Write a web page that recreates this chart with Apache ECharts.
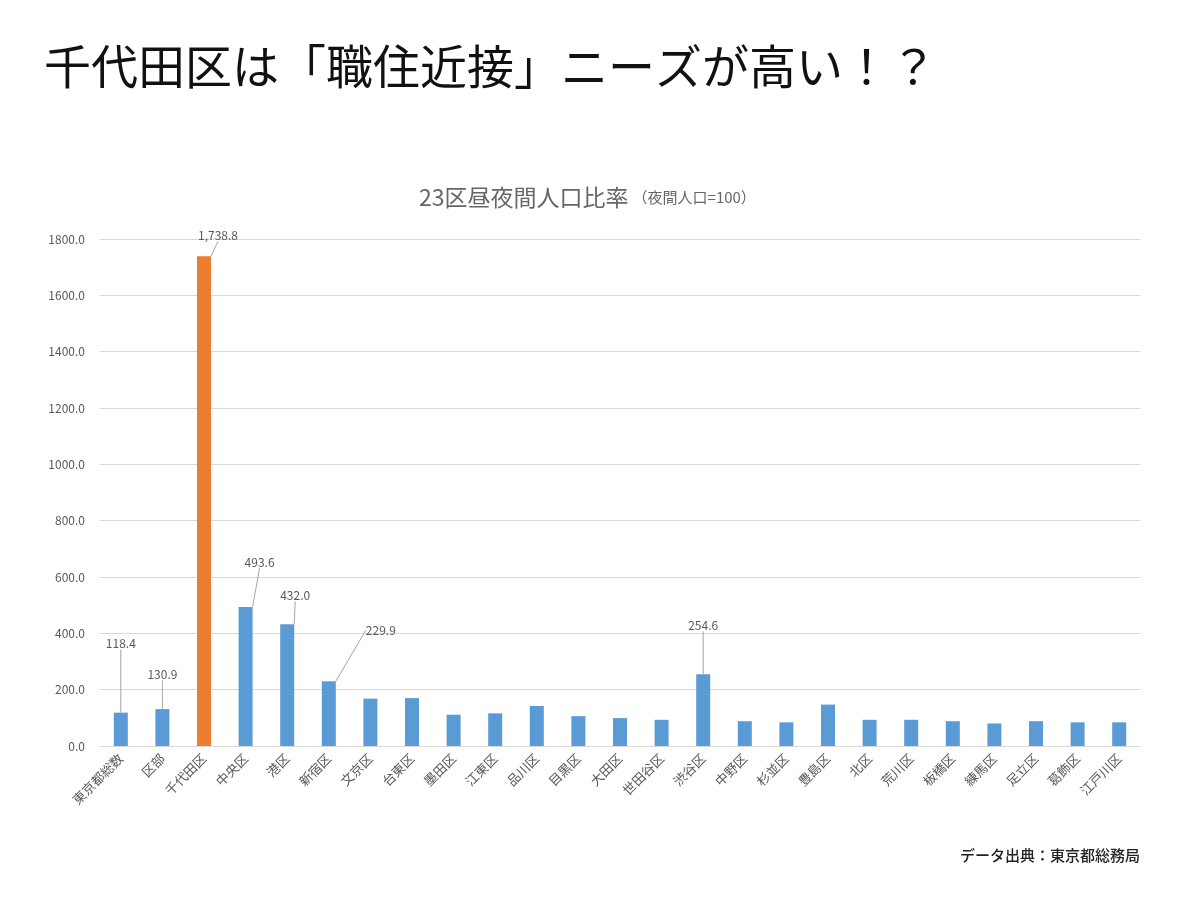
<!DOCTYPE html>
<html>
<head>
<meta charset="utf-8">
<script src="https://cdn.jsdelivr.net/npm/echarts@6/dist/echarts.min.js"></script>
<style>
html,body{margin:0;padding:0;background:#fff;}
#chart{width:1200px;height:902px;}
</style>
</head>
<body>
<div id="chart"></div>
<script>
const categories = ['東京都総数','区部','千代田区','中央区','港区','新宿区','文京区','台東区','墨田区','江東区','品川区','目黒区','大田区','世田谷区','渋谷区','中野区','杉並区','豊島区','北区','荒川区','板橋区','練馬区','足立区','葛飾区','江戸川区'];
const values = [118.4,130.9,1738.8,493.6,432.0,229.9,168,170,111,116,142,106,99,93,254.6,88,84,147,93,93,88,80,88,84,84];
const highlighted = ['千代田区'];
const labeledCategories = ['東京都総数','区部','千代田区','中央区','港区','新宿区','渋谷区'];
const labelOffsets = {
  '東京都総数': [0, -58],
  '区部': [0, -24],
  '千代田区': [14, -10],
  '中央区': [14, -34],
  '港区': [8, -18],
  '新宿区': [52, -40],
  '渋谷区': [0, -38]
};

const font = '"Noto Sans CJK JP", "Noto Sans", sans-serif';
const fmt = v => v.toLocaleString('en-US',{minimumFractionDigits:1,maximumFractionDigits:1});

const data = categories.map((c,i)=>{
  const item = {value: values[i], itemStyle:{color: highlighted.includes(c) ? '#ED7D31' : '#5B9BD5'}};
  if (labeledCategories.includes(c)) {
    item.label = {show:true};
  }
  return item;
});

const chart = echarts.init(document.getElementById('chart'));
chart.setOption({
  backgroundColor:'#fff',
  animation:false,
  textStyle:{fontFamily:font},
  graphic:[
    {type:'text', left:44, top:43, style:{text:'千代田区は「職住近接」ニーズが高い！？', font:'47px '+font, fill:'#111'}},
    {type:'text', right:60, top:848, style:{text:'データ出典：東京都総務局', font:'500 15px '+font, fill:'#222'}}
  ],
  title:{
    text:'{a|23区昼夜間人口比率} {b|（夜間人口=100）}',
    left:414, top:181,
    textStyle:{fontWeight:'normal', rich:{
      a:{fontSize:23, color:'#666', fontFamily:font, fontWeight:'normal'},
      b:{fontSize:15, color:'#666', fontFamily:font, fontWeight:'normal'}
    }}
  },
  grid:{left:100, right:60, top:239, bottom:156},
  xAxis:{
    type:'category', data:categories,
    axisLine:{lineStyle:{color:'#d9d9d9'}},
    axisTick:{show:false},
    axisLabel:{rotate:45, color:'#595959', fontSize:13, interval:0, margin:10, fontFamily:font}
  },
  yAxis:{
    type:'value', min:0, max:1800, interval:200,
    axisLine:{show:false}, axisTick:{show:false},
    splitLine:{lineStyle:{color:'#d9d9d9'}},
    axisLabel:{color:'#595959', fontSize:12, margin:15, formatter:v=>v.toFixed(1), fontFamily:font}
  },
  series:[{
    type:'bar', data:data, barWidth:14,
    label:{show:false, position:'top', color:'#595959', fontSize:12, formatter:p=>fmt(p.value), fontFamily:font},
    labelLine:{show:true, lineStyle:{color:'#a6a6a6', width:1}},
    labelLayout:function(p){
      const c = categories[p.dataIndex];
      const o = labelOffsets[c];
      if(!o) return {};
      return {dx:o[0], dy:o[1]};
    }
  }]
});
</script>
</body>
</html>
